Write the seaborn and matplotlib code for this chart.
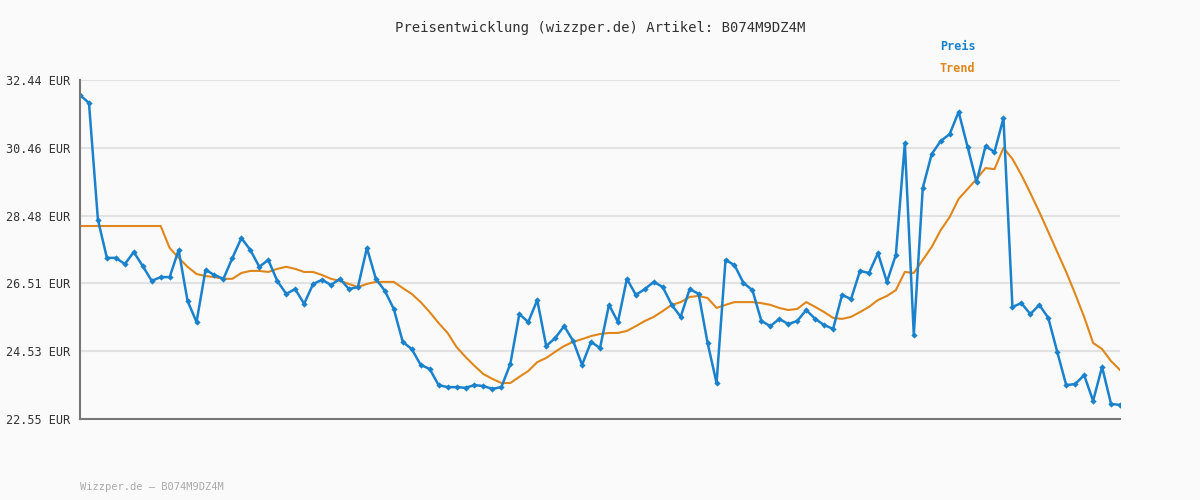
import matplotlib
matplotlib.use("Agg")
import matplotlib.pyplot as plt
import seaborn as sns
import pandas as pd

price = [32.00,31.77,28.36,27.25,27.25,27.07,27.42,27.01,26.58,26.69,26.69,27.48,25.99,25.38,26.90,26.75,26.64,27.25,27.83,27.48,
         26.99,27.19,26.58,26.20,26.34,25.91,26.49,26.61,26.46,26.64,26.34,26.40,27.54,26.64,26.29,25.76,24.80,24.59,24.13,24.01,
         23.54,23.48,23.48,23.46,23.54,23.51,23.43,23.48,24.16,25.61,25.38,26.02,24.68,24.91,25.26,24.83,24.13,24.80,24.62,25.88,
         25.38,26.64,26.17,26.34,26.55,26.40,25.88,25.53,26.34,26.20,24.77,23.60,27.19,27.04,26.52,26.31,25.41,25.26,25.47,25.32,
         25.41,25.73,25.47,25.29,25.18,26.17,26.05,26.87,26.81,27.39,26.55,27.34,30.60,25.00,29.29,30.28,30.66,30.86,31.51,30.49,
         29.46,30.51,30.34,31.33,25.82,25.93,25.61,25.88,25.50,24.51,23.54,23.57,23.83,23.08,24.07,22.99,22.96]
trend = [28.18]*10 + [27.54,27.25,26.99,26.78,26.72,26.69,26.64,26.64,26.81,26.87,
         26.87,26.84,26.93,26.99,26.93,26.84,26.84,26.75,26.64,26.58,26.49,26.40,26.49,26.55,26.55,26.55,26.37,26.20,25.96,25.67,
         25.35,25.06,24.65,24.36,24.10,23.86,23.72,23.60,23.60,23.78,23.95,24.21,24.33,24.51,24.68,24.80,24.88,24.97,25.03,25.06,
         25.06,25.12,25.26,25.41,25.53,25.70,25.88,25.96,26.11,26.14,26.08,25.79,25.88,25.96,25.96,25.96,25.93,25.88,25.79,25.73,
         25.76,25.96,25.82,25.67,25.50,25.47,25.53,25.67,25.82,26.02,26.14,26.31,26.84,26.81,27.19,27.57,28.06,28.44,28.97,29.26,
         29.55,29.87,29.84,30.46,30.14,29.67,29.14,28.59,28.01,27.42,26.84,26.20,25.53,24.77,24.59,24.24,23.98]
yticks = [22.55, 24.53, 26.51, 28.48, 30.46, 32.44]
title = "Preisentwicklung (wizzper.de) Artikel: B074M9DZ4M"
footer = "Wizzper.de – B074M9DZ4M"

df = pd.DataFrame({"i": range(len(price)), "Preis": price, "Trend": trend})
BLUE = "#1a82cc"; ORANGE = "#e0861a"
mono = "DejaVu Sans Mono"

fig = plt.figure(figsize=(12, 5), dpi=100, facecolor="#fafafa")
ax = fig.add_axes([80/1200, 81/500, 1040/1200, 339/500])
ax.set_facecolor("#fafafa")
sns.lineplot(data=df, x="i", y="Trend", ax=ax, color=ORANGE, lw=1.5)
sns.lineplot(data=df, x="i", y="Preis", ax=ax, color=BLUE, lw=1.8, marker="D", markersize=3.2,
             markeredgewidth=0, markerfacecolor=BLUE)
ax.set_xlim(0, len(price) - 1)
ax.set_ylim(yticks[0], yticks[-1])
ax.set_yticks(yticks)
ax.set_yticklabels([f"{v:.2f} EUR" for v in yticks], fontfamily=mono, fontsize=8.5, color="#333333")
ax.set_xticks([])
ax.set_xlabel(""); ax.set_ylabel("")
ax.tick_params(axis="y", length=0, pad=7)
ax.grid(axis="y", color="#e2e2e2", lw=1.5)
ax.set_axisbelow(True)
for s in ["top", "right"]:
    ax.spines[s].set_visible(False)
for s in ["left", "bottom"]:
    ax.spines[s].set_color("#777777"); ax.spines[s].set_linewidth(1.5)
fig.text(0.5, 1 - 28/500, title, ha="center", va="center", fontfamily=mono, fontsize=10, color="#333333")
fig.text(940/1200, 1 - 47/500, "Preis", ha="left", va="center", fontfamily=mono, fontsize=8.5, color=BLUE, fontweight="bold")
fig.text(940/1200, 1 - 68/500, "Trend", ha="left", va="center", fontfamily=mono, fontsize=8.5, color=ORANGE, fontweight="bold")
fig.text(80/1200, 1 - 487/500, footer, ha="left", va="center", fontfamily=mono, fontsize=7.5, color="#aaaaaa")
fig.savefig("out.png", dpi=100, facecolor=fig.get_facecolor())
